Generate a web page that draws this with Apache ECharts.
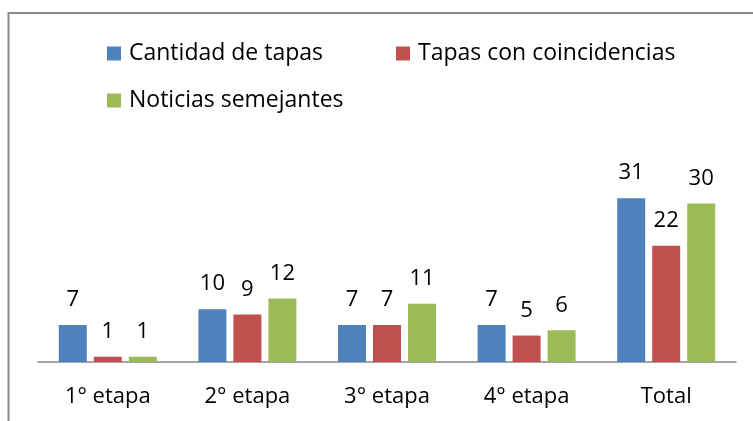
<!DOCTYPE html>
<html>
<head>
<meta charset="utf-8">
<script src="https://cdn.jsdelivr.net/npm/echarts@6/dist/echarts.min.js"></script>
<style>
  html, body { margin: 0; padding: 0; background: #fff; }
  #main { width: 753px; height: 421px; }
</style>
</head>
<body>
<div id="main"></div>
<script>
const categories = ['1° etapa', '2° etapa', '3° etapa', '4° etapa', 'Total'];
const cantidadTapas = [7, 10, 7, 7, 31];
const tapasCoincidencias = [1, 9, 7, 5, 22];
const noticiasSemejantes = [1, 12, 11, 6, 30];
const seriesNames = ['Cantidad de tapas', 'Tapas con coincidencias', 'Noticias semejantes'];
const colors = ['#4F81BD', '#C0504D', '#9BBB59'];

const font = 'Open Sans';
const div = document.getElementById('main');
const myChart = echarts.init(div, undefined, { width: 753, height: 421 });

function legendAt(name, left, top) {
  return {
    data: [name],
    left: left,
    top: top,
    padding: 0,
    itemWidth: 14,
    itemHeight: 14,
    icon: 'rect',
    selectedMode: false,
    textStyle: { fontFamily: font, fontSize: 23, color: '#000', padding: [0, 0, 0, 3] }
  };
}

const label = {
  show: true,
  position: 'top',
  distance: 14,
  fontFamily: font,
  fontSize: 22,
  color: '#000'
};

function bar(name, data, color) {
  return {
    name: name,
    type: 'bar',
    data: data,
    barWidth: 28,
    barGap: '25%',
    itemStyle: { color: color },
    label: label
  };
}

const option = {
  animation: false,
  textStyle: { fontFamily: font },
  graphic: [{
    type: 'rect',
    shape: { x: 8.5, y: 13, width: 900, height: 600 },
    style: { fill: 'none', stroke: '#8c8c8c', lineWidth: 2 },
    silent: true
  }],
  legend: [
    legendAt(seriesNames[0], 107, 42),
    legendAt(seriesNames[1], 396, 42),
    legendAt(seriesNames[2], 107, 89)
  ],
  grid: { left: 38, right: 17, top: 177, bottom: 59 },
  xAxis: {
    type: 'category',
    data: categories,
    axisTick: { show: false },
    axisLine: { lineStyle: { color: '#868686', width: 1.5 } },
    axisLabel: { fontFamily: font, fontSize: 22, color: '#000', margin: 24 }
  },
  yAxis: {
    type: 'value',
    min: 0,
    max: 35,
    show: false,
    splitLine: { show: false }
  },
  series: [
    bar(seriesNames[0], cantidadTapas, colors[0]),
    bar(seriesNames[1], tapasCoincidencias, colors[1]),
    bar(seriesNames[2], noticiasSemejantes, colors[2])
  ]
};

myChart.setOption(option);
</script>
</body>
</html>
